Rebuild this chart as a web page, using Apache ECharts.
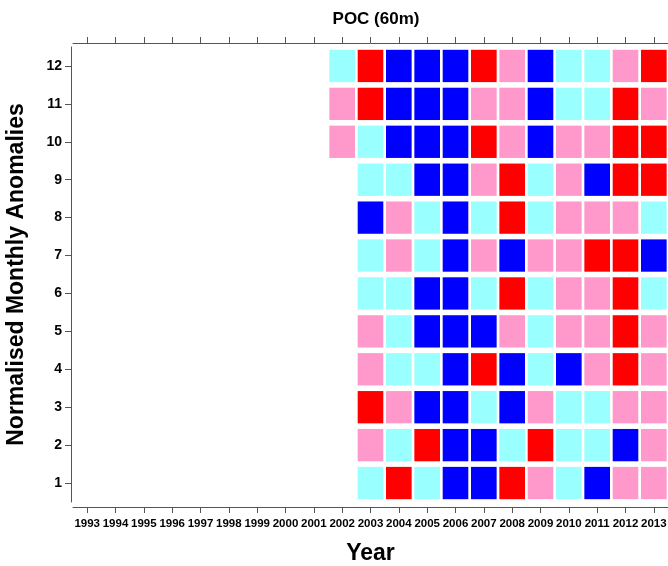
<!DOCTYPE html>
<html>
<head>
<meta charset="utf-8">
<script src="https://cdn.jsdelivr.net/npm/echarts@6/dist/echarts.min.js"></script>
<style>html,body{margin:0;padding:0;background:#fff}#c{width:668px;height:566px}</style>
</head>
<body>
<div id="c"></div>
<script>
// Years on the x axis and months on the y axis
const years = ['1993','1994','1995','1996','1997','1998','1999','2000','2001','2002','2003','2004','2005','2006','2007','2008','2009','2010','2011','2012','2013'];
const months = ['1','2','3','4','5','6','7','8','9','10','11','12'];
// Data columns cover 2002..2013
const dataYears = ['2002','2003','2004','2005','2006','2007','2008','2009','2010','2011','2012','2013'];
// Anomaly classes: -2 strong negative, -1 weak negative, 1 weak positive, 2 strong positive
const m1  = [null,-1, 2,-1,-2,-2, 2, 1,-1,-2, 1, 1];
const m2  = [null, 1,-1, 2,-2,-2,-1, 2,-1,-1,-2, 1];
const m3  = [null, 2, 1,-2,-2,-1,-2, 1,-1,-1, 1, 1];
const m4  = [null, 1,-1,-1,-2, 2,-2,-1,-2, 1, 2, 1];
const m5  = [null, 1,-1,-2,-2,-2, 1,-1, 1, 1, 2, 1];
const m6  = [null,-1,-1,-2,-2,-1, 2,-1, 1, 1, 2,-1];
const m7  = [null,-1, 1,-1,-2, 1,-2, 1, 1, 2, 2,-2];
const m8  = [null,-2, 1,-1,-2,-1, 2,-1, 1, 1, 1,-1];
const m9  = [null,-1,-1,-2,-2, 1, 2,-1, 1,-2, 2, 2];
const m10 = [ 1,-1,-2,-2,-2, 2, 1,-2, 1, 1, 2, 2];
const m11 = [ 1, 2,-2,-2,-2, 1, 1,-2,-1,-1, 2, 1];
const m12 = [-1, 2,-2,-2,-2, 2, 1,-2,-1,-1, 1, 2];
const monthRows = [m1,m2,m3,m4,m5,m6,m7,m8,m9,m10,m11,m12];

const classColors = {'-2':'#0000FF','-1':'#99FFFF','1':'#FF99CC','2':'#FF0000'};

const cells = [];
monthRows.forEach((row, mi) => {
  row.forEach((v, yi) => {
    if (v === null) return;
    cells.push([years.indexOf(dataYears[yi]), mi, v]);
  });
});

const FONT = 'Liberation Sans, Arial, sans-serif';
const AX = '#555';
const chart = echarts.init(document.getElementById('c'));
chart.setOption({
  animation: false,
  backgroundColor: '#fff',
  title: {
    text: 'POC (60m)', left: 371, top: 6, textAlign: 'center',
    textStyle: {fontFamily: FONT, fontWeight: 'bold', fontSize: 17, color: '#000'}
  },
  grid: {left: 73, right: 0, top: 47, bottom: 64, containLabel: false, outerBoundsMode: 'none'},
  xAxis: [{
    type: 'category', data: years, position: 'bottom', offset: 5,
    axisLine: {show: true, lineStyle: {color: AX, width: 1}},
    axisTick: {show: true, interval: 0, alignWithLabel: true, length: 6, lineStyle: {color: AX}},
    axisLabel: {interval: 0, margin: 11, fontFamily: FONT, fontWeight: 'bold', fontSize: 11.5, color: '#000'},
    splitLine: {show: false},
    name: 'Year', nameLocation: 'middle', nameGap: 35,
    nameTextStyle: {fontFamily: FONT, fontWeight: 'bold', fontSize: 23, color: '#000'}
  }, {
    type: 'category', data: years, position: 'top', offset: 4,
    axisLine: {show: true, lineStyle: {color: AX, width: 1}},
    axisTick: {show: true, interval: 0, alignWithLabel: true, length: 6, lineStyle: {color: AX}},
    axisLabel: {show: false},
    splitLine: {show: false}
  }],
  yAxis: {
    type: 'category', data: months, offset: 2,
    axisLine: {show: true, lineStyle: {color: AX, width: 1}},
    axisTick: {show: true, interval: 0, alignWithLabel: true, length: 6, lineStyle: {color: AX}},
    axisLabel: {interval: 0, margin: 9, fontFamily: FONT, fontWeight: 'bold', fontSize: 14, color: '#000'},
    splitLine: {show: false},
    name: 'Normalised Monthly Anomalies', nameLocation: 'middle', nameGap: 43,
    nameTextStyle: {fontFamily: FONT, fontWeight: 'bold', fontSize: 23, color: '#000'}
  },
  series: [{
    type: 'custom',
    xAxisIndex: 0, yAxisIndex: 0,
    data: cells,
    renderItem: function (params, api) {
      const p = api.coord([api.value(0), api.value(1)]);
      const s = api.size([1, 1]);
      const w = s[0] - 2.7, h = s[1] - 5.6;
      return {
        type: 'rect',
        shape: {x: p[0] - w / 2, y: p[1] - h / 2, width: w, height: h},
        style: {fill: classColors[String(api.value(2))]}
      };
    }
  }]
});
</script>
</body>
</html>
